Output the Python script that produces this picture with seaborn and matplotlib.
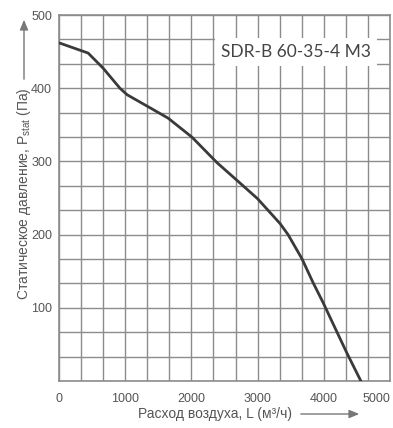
import numpy as np
import pandas as pd
import seaborn as sns
import matplotlib.pyplot as plt
from matplotlib.patches import FancyArrowPatch

# curve
flow = [0, 440, 670, 920, 1030, 1380, 1650, 2010, 2390, 2690, 3000, 3340, 3460, 3670, 3840, 3990, 4120, 4350, 4560]
pressure = [462, 448, 427, 400, 391, 373, 359, 333, 298, 274, 249, 215, 200, 167, 134, 107, 82, 38, 0]
x_ticks = [0, 1000, 2000, 3000, 4000, 5000]
y_ticks = [100, 200, 300, 400, 500]
model = "SDR-B 60-35-4 M3"

sns.set_style("white")
plt.rcParams['font.family'] = ['Liberation Sans', 'DejaVu Sans']
plt.rcParams['mathtext.default'] = 'regular'

df = pd.DataFrame({'L': flow, 'P': pressure})

W, H = 393, 428
fig = plt.figure(figsize=(W / 100, H / 100), dpi=100)
ax = fig.add_axes([59 / W, 1 - 381 / H, 331 / W, 366 / H])

grid_c = '#8c8c8c'
text_c = '#555555'

sns.lineplot(data=df, x='L', y='P', ax=ax, color='#3a3a3a', linewidth=2.0, zorder=3)

ax.set_xlim(0, 5000)
ax.set_ylim(0, 500)
ax.set_xticks(x_ticks)
ax.set_yticks(y_ticks)
ax.set_xticks(np.arange(0, 5001, 1000 / 3), minor=True)
ax.set_yticks(np.arange(0, 501, 100 / 3), minor=True)
ax.grid(True, which='both', color=grid_c, linewidth=1.0)
ax.tick_params(which='both', length=0)
ax.tick_params(axis='both', labelsize=9, labelcolor=text_c)
ax.tick_params(axis='x', pad=9)
ax.tick_params(axis='y', pad=5)
for lab in ax.get_xticklabels():
    if lab.get_text() == '5000':
        lab.set_ha('right')
ax.set_xlabel('')
ax.set_ylabel('')
for s in ax.spines.values():
    s.set_color(grid_c)
    s.set_linewidth(1.2)

ax.text(3580, 449, model, family=['Lato', 'DejaVu Sans'], fontsize=12.5, color='#444444',
        ha='center', va='center', zorder=5,
        bbox=dict(boxstyle='square,pad=0.35', facecolor='white', edgecolor='none'))

# axis titles with arrows
fig.text(24 / W, 1 - 194 / H, 'Статическое давление, P$_{stat}$ (Па)', rotation=90,
         ha='center', va='center', fontsize=10, color=text_c)
fig.text(215 / W, 1 - 414 / H, 'Расход воздуха, L (м³/ч)', ha='center', va='center',
         fontsize=10, color=text_c)
fig.add_artist(FancyArrowPatch(
    (24 / W, 1 - 82 / H), (24 / W, 1 - 17 / H), transform=fig.transFigure,
    arrowstyle='-|>,head_length=6,head_width=2.5', color='#777777', lw=1))
fig.add_artist(FancyArrowPatch(
    (298 / W, 1 - 414 / H), (362 / W, 1 - 414 / H), transform=fig.transFigure,
    arrowstyle='-|>,head_length=6,head_width=2.5', color='#777777', lw=1))

fig.savefig('out.png', dpi=100, facecolor='white')
